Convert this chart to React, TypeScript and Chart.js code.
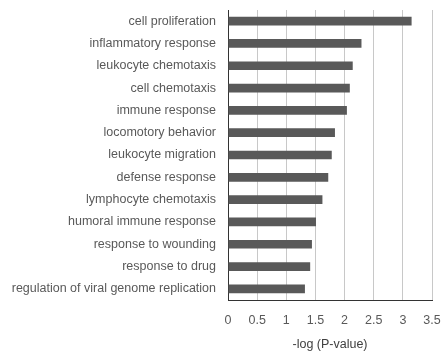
import React, { useEffect, useRef } from "react";
import { Chart, registerables } from "chart.js";

Chart.register(...registerables);

const categories = [
  "cell proliferation",
  "inflammatory response",
  "leukocyte chemotaxis",
  "cell chemotaxis",
  "immune response",
  "locomotory behavior",
  "leukocyte migration",
  "defense response",
  "lymphocyte chemotaxis",
  "humoral immune response",
  "response to wounding",
  "response to drug",
  "regulation of viral genome replication",
];

const values = [3.15, 2.29, 2.14, 2.09, 2.04, 1.835, 1.78, 1.72, 1.62, 1.51, 1.44, 1.41, 1.32];

const xTicks = [0, 0.5, 1, 1.5, 2, 2.5, 3, 3.5];
const xTitle = "-log (P-value)";

export default function App() {
  const ref = useRef<HTMLCanvasElement>(null);
  useEffect(() => {
    if (!ref.current) return;
    const font = { family: "'Liberation Sans', Arial, sans-serif", size: 12.5 };
    const chart = new Chart(ref.current, {
      type: "bar",
      data: {
        labels: categories,
        datasets: [
          {
            data: values,
            backgroundColor: "#595959",
            barPercentage: 0.39,
            categoryPercentage: 1,
          },
        ],
      },
      options: {
        indexAxis: "y",
        animation: false,
        responsive: false,
        maintainAspectRatio: false,
        layout: { padding: { top: 10, right: 13, left: 0, bottom: 0 } },
        plugins: { legend: { display: false }, tooltip: { enabled: false } },
        scales: {
          x: {
            min: 0,
            max: 3.5,
            afterBuildTicks: (scale: any) => {
              scale.ticks = xTicks.map((v) => ({ value: v }));
            },
            afterFit: (scale: any) => {
              scale.height = 52;
              scale.paddingLeft = 0;
              scale.paddingRight = 0;
            },
            ticks: {
              color: "#595959",
              font,
              padding: 13,
              callback: (v: any) => String(v),
            },
            grid: { color: "#c8c8c8", drawTicks: false, lineWidth: 1 },
            border: { display: true, color: "#333333", width: 1 },
            title: {
              display: true,
              text: xTitle,
              color: "#404040",
              font,
              padding: { top: 0, bottom: 0 },
            },
          },
          y: {
            afterFit: (scale: any) => {
              scale.width = 228;
              scale.paddingTop = 0;
              scale.paddingBottom = 0;
            },
            ticks: { color: "#595959", font, padding: 12, autoSkip: false },
            grid: { display: false, drawTicks: false },
            border: { display: true, color: "#333333", width: 1 },
          },
        },
      },
    });
    return () => chart.destroy();
  }, []);
  return (
    <div style={{ position: "absolute", left: 0, top: 0, width: 445, height: 352, background: "#fff" }}>
      <canvas ref={ref} width={445} height={352} />
    </div>
  );
}
